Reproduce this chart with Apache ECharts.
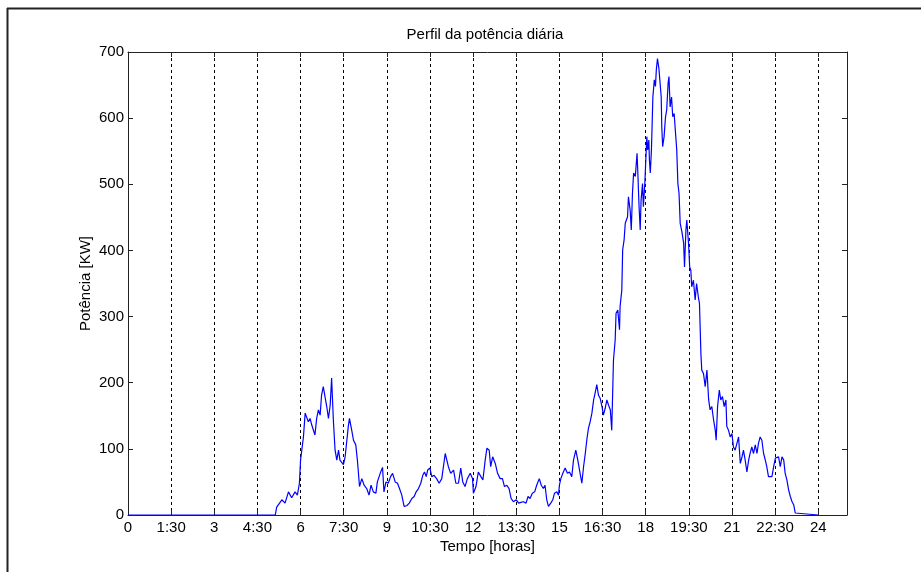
<!DOCTYPE html>
<html><head><meta charset="utf-8">
<script src="https://cdn.jsdelivr.net/npm/echarts@6/dist/echarts.min.js"></script>
<style>html,body{margin:0;padding:0;background:#fff}#c{width:921px;height:572px}</style>
</head><body><div id="c"></div>
<script>
const titleText = 'Perfil da potência diária';
const xName = 'Tempo [horas]';
const yName = 'Potência [KW]';
const xTickLabels = ['0','1:30','3','4:30','6','7:30','9','10:30','12','13:30','15','16:30','18','19:30','21','22:30','24'];
const yTickLabels = ['0','100','200','300','400','500','600','700'];
const hours = [0,5.12,5.17,5.35,5.46,5.58,5.69,5.81,5.89,5.96,6.0,6.10,6.16,6.21,6.27,6.33,6.39,6.45,6.50,6.56,6.62,6.68,6.73,6.79,6.85,6.91,6.97,7.03,7.08,7.14,7.20,7.26,7.32,7.37,7.43,7.49,7.55,7.61,7.66,7.70,7.78,7.84,7.92,7.98,8.05,8.13,8.21,8.30,8.38,8.45,8.53,8.62,8.67,8.77,8.85,8.90,8.97,9.05,9.13,9.20,9.29,9.37,9.44,9.52,9.60,9.69,9.78,9.87,9.95,10.02,10.10,10.18,10.25,10.31,10.37,10.42,10.50,10.56,10.64,10.73,10.82,10.91,11.03,11.14,11.22,11.32,11.40,11.49,11.57,11.64,11.72,11.80,11.90,11.98,12.01,12.10,12.18,12.27,12.34,12.42,12.48,12.56,12.61,12.68,12.77,12.85,12.94,13.02,13.09,13.17,13.25,13.32,13.40,13.50,13.58,13.66,13.75,13.84,13.91,13.98,14.06,14.14,14.21,14.30,14.37,14.44,14.50,14.56,14.62,14.70,14.77,14.83,14.91,14.97,15.00,15.05,15.12,15.20,15.28,15.35,15.43,15.49,15.57,15.64,15.70,15.78,15.84,15.90,15.96,16.01,16.07,16.13,16.19,16.24,16.30,16.36,16.42,16.48,16.53,16.59,16.65,16.71,16.77,16.82,16.88,16.94,16.97,17.03,17.09,17.11,17.17,17.20,17.25,17.29,17.37,17.40,17.46,17.50,17.54,17.58,17.64,17.70,17.73,17.77,17.81,17.84,17.89,17.92,17.97,18.00,18.04,18.07,18.11,18.13,18.16,18.20,18.25,18.30,18.34,18.37,18.41,18.46,18.50,18.54,18.56,18.59,18.64,18.69,18.73,18.78,18.81,18.85,18.90,18.94,18.99,19.03,19.08,19.12,19.16,19.20,19.26,19.32,19.35,19.40,19.43,19.49,19.53,19.57,19.60,19.66,19.72,19.77,19.83,19.87,19.92,19.95,20.01,20.07,20.13,20.19,20.24,20.30,20.36,20.42,20.45,20.50,20.56,20.61,20.67,20.73,20.79,20.82,20.88,20.94,21.00,21.05,21.11,21.17,21.23,21.29,21.35,21.40,21.46,21.52,21.58,21.63,21.69,21.75,21.81,21.87,21.92,21.98,22.04,22.10,22.16,22.21,22.27,22.33,22.39,22.45,22.51,22.56,22.62,22.68,22.74,22.80,22.85,22.91,22.97,23.03,23.09,23.15,23.20,23.23,24];
const power = [0,0,12,23,18,35,26,35,30,48,83,118,154,151,141,146,136,139,121,146,159,151,181,194,179,164,146,166,207,144,98,83,98,83,86,76,88,113,134,146,128,113,106,81,43,55,45,40,30,45,35,33,50,63,72,35,50,48,58,63,50,48,40,30,13,14,18,25,28,35,40,48,60,65,58,68,71,58,60,55,48,55,93,73,63,68,48,48,71,50,43,55,63,55,33,43,65,58,53,83,101,98,73,88,78,63,55,55,43,45,40,25,20,23,18,19,20,18,28,25,33,35,45,55,45,40,45,23,13,18,23,33,35,30,45,55,63,71,63,65,58,83,98,83,68,48,73,93,116,131,141,154,174,184,197,181,176,164,151,161,174,166,159,128,234,265,305,310,280,315,340,401,416,441,451,481,461,431,486,517,512,547,514,466,431,476,501,466,501,532,572,552,567,537,517,552,632,658,648,673,690,675,678,632,587,557,572,602,612,653,663,617,632,602,607,582,552,501,486,441,428,411,375,431,446,411,375,370,345,355,325,350,330,320,244,219,214,194,219,174,159,164,144,128,113,164,189,174,179,164,174,134,128,118,123,103,98,108,118,78,88,98,83,65,83,93,103,93,106,93,108,118,113,93,83,73,58,55,58,73,86,83,88,73,88,83,63,53,38,28,20,15,3,0,0];

const chart = echarts.init(document.getElementById('c'), null, {renderer:'canvas'});
const font = 'Liberation Sans, Arial, sans-serif';
const fs = 15;
const axisCol = '#222';
const xFmt = v => { const i = Math.round(v/1.5); return (Math.abs(v - i*1.5) < 1e-6 && i < xTickLabels.length) ? xTickLabels[i] : ''; };
const yFmt = v => { const i = Math.round(v/100); return yTickLabels[i] || ''; };
chart.setOption({
  animation: false,
  backgroundColor: '#fff',
  textStyle: {fontFamily: font},
  graphic: [
    {type: 'line', shape: {x1: 7, y1: 8.5, x2: 921, y2: 8.5}, style: {stroke: '#222', lineWidth: 2}},
    {type: 'line', shape: {x1: 7.5, y1: 8, x2: 7.5, y2: 572}, style: {stroke: '#222', lineWidth: 2}},
    {type: 'text', x: 485, y: 35, style: {text: titleText, fontSize: fs, fontFamily: font, fill: '#000', align: 'center', verticalAlign: 'middle'}}
  ],
  grid: {left: 128, top: 52, width: 719, height: 463, containLabel: false},
  xAxis: [
    {type: 'value', min: 0, max: 25, interval: 1.5, position: 'bottom',
     name: xName, nameLocation: 'middle', nameGap: 24, nameMoveOverlap: false,
     nameTextStyle: {fontSize: fs, color: '#000', fontFamily: font},
     axisLine: {show: true, onZero: false, lineStyle: {color: axisCol, width: 1}},
     axisTick: {show: true, inside: true, length: 5, lineStyle: {color: axisCol}},
     axisLabel: {show: true, formatter: xFmt, fontSize: fs, color: '#000', margin: 5, showMaxLabel: false, fontFamily: font},
     splitLine: {show: true, lineStyle: {color: '#000', type: [3, 3], width: 1}}},
    {type: 'value', min: 0, max: 25, interval: 1.5, position: 'top',
     axisLine: {show: true, onZero: false, lineStyle: {color: axisCol, width: 1}},
     axisTick: {show: true, inside: true, length: 5, lineStyle: {color: axisCol}},
     axisLabel: {show: false}, splitLine: {show: false}}
  ],
  yAxis: [
    {type: 'value', min: 0, max: 700, interval: 100, position: 'left',
     name: yName, nameLocation: 'middle', nameGap: 35, nameMoveOverlap: false,
     nameTextStyle: {fontSize: fs, color: '#000', fontFamily: font},
     axisLine: {show: true, onZero: false, lineStyle: {color: axisCol, width: 1}},
     axisTick: {show: true, inside: true, length: 5, lineStyle: {color: axisCol}},
     axisLabel: {show: true, formatter: yFmt, fontSize: fs, color: '#000', margin: 4, fontFamily: font},
     splitLine: {show: false}},
    {type: 'value', min: 0, max: 700, interval: 100, position: 'right',
     axisLine: {show: true, onZero: false, lineStyle: {color: axisCol, width: 1}},
     axisTick: {show: true, inside: true, length: 5, lineStyle: {color: axisCol}},
     axisLabel: {show: false}, splitLine: {show: false}}
  ],
  series: [{
    type: 'line', xAxisIndex: 0, yAxisIndex: 0,
    data: hours.map((h, i) => [h, power[i]]),
    showSymbol: false, symbol: 'none',
    lineStyle: {color: '#0000ff', width: 1.2},
    clip: true
  }]
});
</script></body></html>
